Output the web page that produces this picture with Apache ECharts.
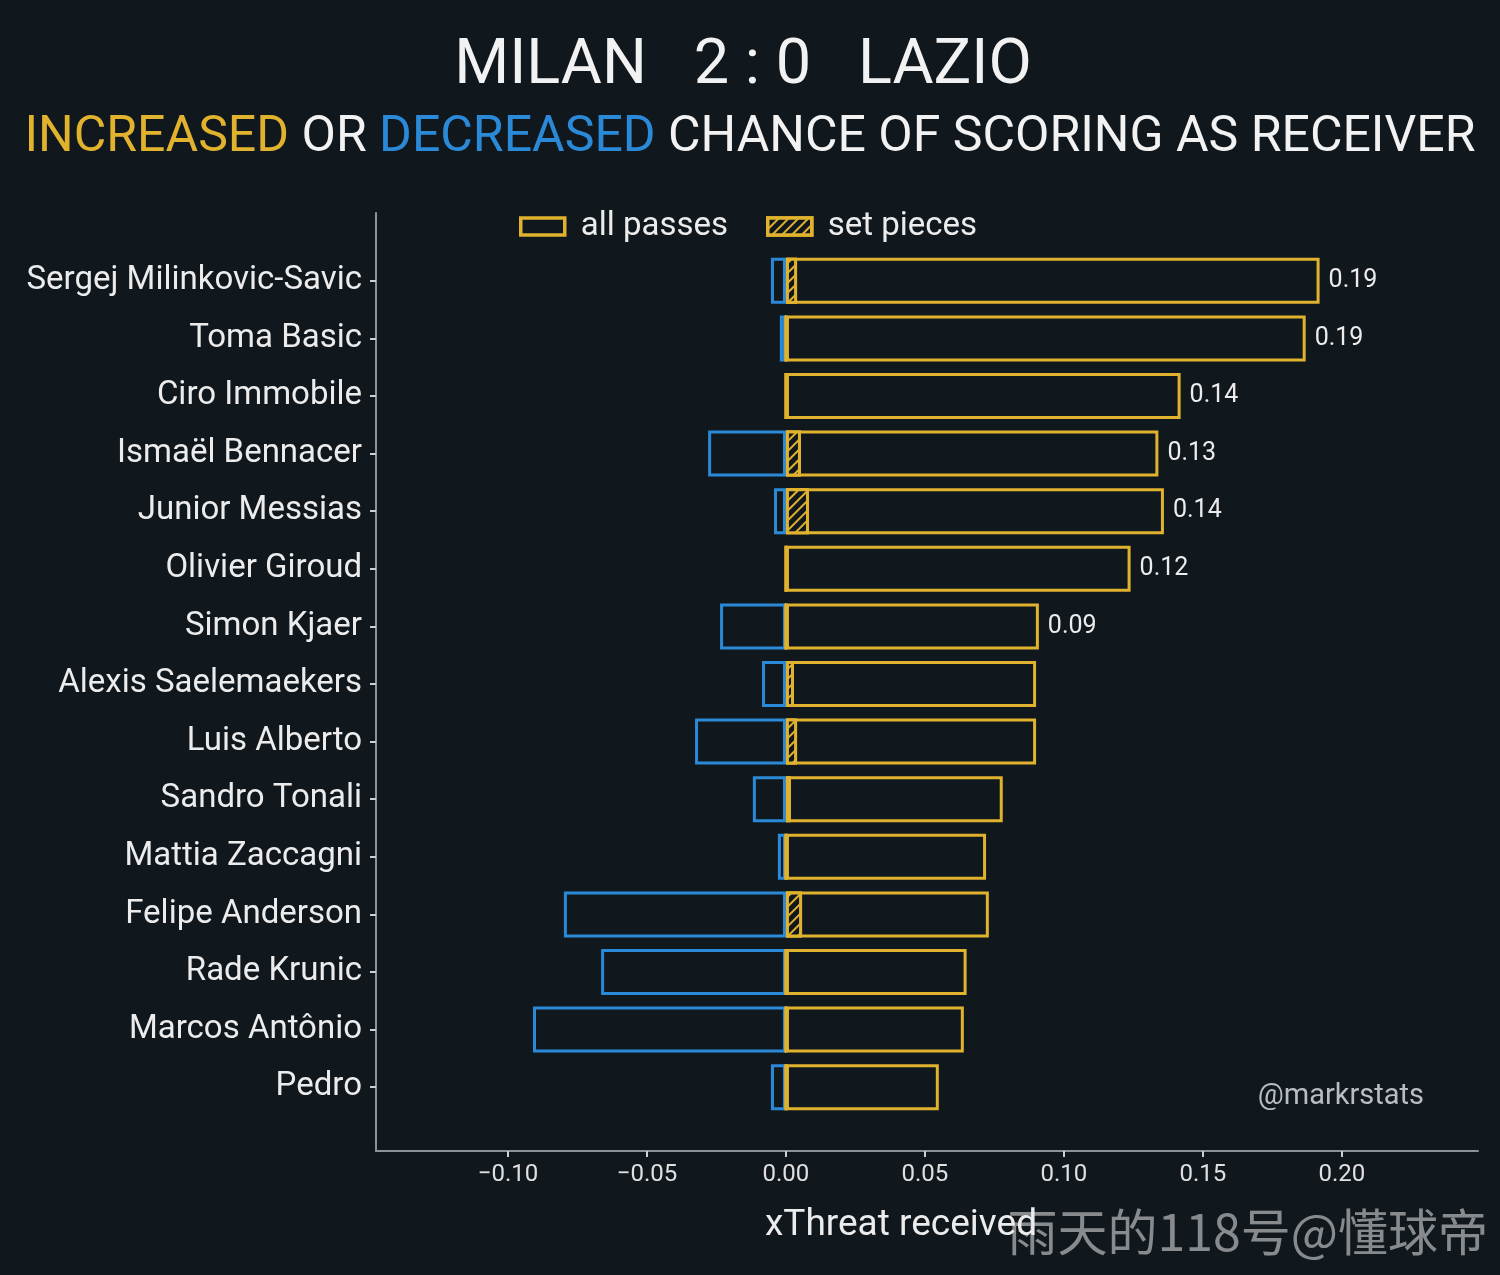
<!DOCTYPE html>
<html>
<head>
<meta charset="utf-8">
<script src="https://cdn.jsdelivr.net/npm/echarts@6/dist/echarts.min.js"></script>
<style>
  html, body { margin: 0; padding: 0; background: #10171d; }
  #chart { width: 1500px; height: 1275px; }
</style>
</head>
<body>
<div id="chart"></div>
<script>
// players, top to bottom
var players = ['Sergej Milinkovic-Savic', 'Toma Basic', 'Ciro Immobile', 'Ismaël Bennacer',
  'Junior Messias', 'Olivier Giroud', 'Simon Kjaer', 'Alexis Saelemaekers', 'Luis Alberto',
  'Sandro Tonali', 'Mattia Zaccagni', 'Felipe Anderson', 'Rade Krunic', 'Marcos Antônio', 'Pedro'];
// xThreat gained as receiver (all passes)
var increased = [0.192, 0.187, 0.142, 0.134, 0.136, 0.124, 0.091, 0.090, 0.090, 0.078, 0.072, 0.073, 0.065, 0.064, 0.055];
// xThreat lost as receiver
var decreased = [-0.0054, -0.0022, null, -0.028, -0.0043, null, -0.0237, -0.0086, -0.0327, -0.0119, -0.0029, -0.0799, -0.0665, -0.091, -0.0054];
// from set pieces
var setPieces = [0.004, 0, 0, 0.0054, 0.0083, 0, 0, 0.0029, 0.004, 0.0018, 0, 0.0058, 0, 0, 0];
// value labels written next to the top bars
var valueLabels = ['0.19', '0.19', '0.14', '0.13', '0.14', '0.12', '0.09', '', '', '', '', '', '', '', ''];
var xTicks = [-0.10, -0.05, 0.00, 0.05, 0.10, 0.15, 0.20];

var bg = '#10171d';
var yellow = '#e0b22e';
var blue = '#2b8ad8';
var axisGray = '#8a9499';
var textCol = '#ececec';
var xMin = -0.1475, xMax = 0.249;

var chart = echarts.init(document.getElementById('chart'));

var hatch = {
  symbol: 'rect',
  color: yellow,
  backgroundColor: bg,
  dashArrayX: [1, 0],
  dashArrayY: [2, 5],
  rotation: -Math.PI / 4
};

var sub = function (c) {
  return { fontSize: 50, color: c, fontWeight: 'normal', fontFamily: 'Roboto' };
};

var option = {
  backgroundColor: bg,
  animation: false,
  textStyle: { fontFamily: 'Roboto' },
  title: [{
    text: 'MILAN   2 : 0   LAZIO',
    left: 738, top: 31, textAlign: 'center',
    textStyle: { fontSize: 63, fontWeight: 'normal', color: '#f2f2f2', fontFamily: 'Roboto' }
  }, {
    text: '{y|INCREASED }{w|OR }{b|DECREASED }{w|CHANCE OF SCORING AS RECEIVER}',
    left: 745, top: 108, textAlign: 'center',
    textStyle: {
      fontWeight: 'normal',
      rich: { y: sub(yellow), b: sub(blue), w: sub('#f2f2f2') }
    }
  }],
  legend: {
    left: 514, top: 205,
    icon: 'rect',
    itemWidth: 44, itemHeight: 17, itemGap: 38,
    textStyle: { fontSize: 33, color: textCol, fontFamily: 'Roboto', padding: [0, 0, 0, 11] },
    data: [
      { name: 'all passes', itemStyle: { color: bg, borderColor: yellow, borderWidth: 3.5 } },
      { name: 'set pieces', itemStyle: { color: bg, borderColor: yellow, borderWidth: 3.5, decal: hatch } }
    ]
  },
  grid: [
    { left: 376, right: 22, top: 252, height: 864 },
    { left: 376, right: 22, top: 213, bottom: 124 }
  ],
  xAxis: [{
    gridIndex: 0, type: 'value', min: xMin, max: xMax,
    axisLine: { show: false }, axisTick: { show: false }, axisLabel: { show: false },
    splitLine: { show: false }
  }, {
    gridIndex: 1, type: 'value', min: xMin, max: xMax,
    axisLine: { show: true, onZero: false, lineStyle: { color: axisGray, width: 2 } },
    axisTick: { show: true, length: 6, customValues: xTicks, lineStyle: { color: '#d0d0d0', width: 2 } },
    axisLabel: {
      customValues: xTicks, margin: 12, fontSize: 24, color: '#e0e0e0',
      formatter: function (v) { return v.toFixed(2).replace('-', '\u2212'); }
    },
    splitLine: { show: false },
    name: 'xThreat received', nameLocation: 'middle', nameGap: 56,
    nameTextStyle: { fontSize: 37, color: textCol, padding: [0, 52, 0, 0] }
  }],
  yAxis: [{
    gridIndex: 0, type: 'category', data: players, inverse: true,
    axisLine: { show: false, onZero: false },
    axisTick: { show: true, length: 6, alignWithLabel: true, lineStyle: { color: '#d0d0d0', width: 2 } },
    axisLabel: { fontSize: 33, color: textCol, margin: 14 }
  }, {
    gridIndex: 1, type: 'value', min: 0, max: 1,
    axisLine: { show: true, onZero: false, lineStyle: { color: axisGray, width: 2 } },
    axisTick: { show: false }, axisLabel: { show: false }, splitLine: { show: false }
  }],
  series: [{
    name: 'decreased', type: 'bar', xAxisIndex: 0, yAxisIndex: 0,
    data: decreased, barWidth: 46, barGap: '-100%',
    itemStyle: { color: bg, borderColor: blue, borderWidth: 3 }
  }, {
    name: 'all passes', type: 'bar', xAxisIndex: 0, yAxisIndex: 0,
    data: increased, barWidth: 46, barGap: '-100%',
    itemStyle: { color: bg, borderColor: yellow, borderWidth: 3 },
    label: {
      show: true, position: 'right', distance: 9, fontSize: 25, color: textCol,
      formatter: function (p) { return valueLabels[p.dataIndex]; }
    }
  }, {
    name: 'set pieces', type: 'bar', xAxisIndex: 0, yAxisIndex: 0,
    data: setPieces, barWidth: 46, barGap: '-100%',
    itemStyle: { color: bg, borderColor: yellow, borderWidth: 3, decal: hatch }
  }],
  graphic: [{
    type: 'text', right: 76, top: 1082,
    style: { text: '@markrstats', fontSize: 29, fill: '#b9bdc1', fontFamily: 'Roboto' }
  }, {
    type: 'text', right: 12, top: 1207,
    style: { text: '雨天的118号@懂球帝', fontSize: 50, fill: 'rgba(235,235,235,0.55)', fontFamily: 'Noto Sans CJK SC' }
  }]
};

chart.setOption(option);
</script>
</body>
</html>
